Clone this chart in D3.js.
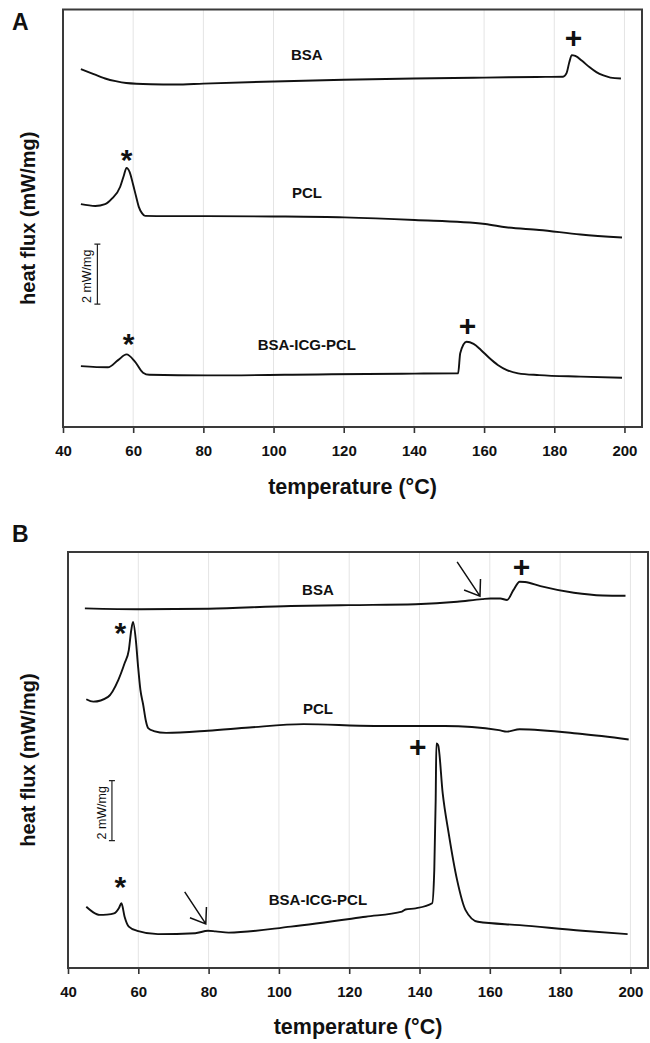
<!DOCTYPE html>
<html><head><meta charset="utf-8">
<script src="https://cdn.jsdelivr.net/npm/d3@7"></script>
<style>
body{margin:0;background:#fff}
svg{display:block}
text{font-family:"Liberation Sans",Arial,Helvetica,sans-serif;fill:#111}
</style>
</head><body>
<svg id="c" width="650" height="1043"></svg>
<script>
// ---------- data ----------
const xTicks = [40, 60, 80, 100, 120, 140, 160, 180, 200];
const seriesNames = ["BSA", "PCL", "BSA-ICG-PCL"];
const xTitle = "temperature (°C)";
const yTitle = "heat flux (mW/mg)";
const scaleBarText = "2 mW/mg";

// Panel A  [temperature °C, heat flux mW/mg (stacked offset)]
const aBSA = [[45.1,11.93],[48,11.80],[52,11.62],[55,11.53],[58,11.47],[65,11.43],[72,11.42],[80,11.45],[100,11.52],[120,11.58],[140,11.62],[160,11.65],[175,11.67],[182.5,11.68],[183.5,11.80],[184.3,12.17],[185,12.40],[186,12.37],[188,12.20],[190,12.00],[192,11.83],[194,11.72],[196,11.65],[199,11.62]];
const aPCL = [[45.1,7.43],[49.2,7.37],[52,7.43],[54,7.62],[56.3,8.01],[57.3,8.37],[58.1,8.64],[59,8.50],[59.9,8.12],[60.8,7.70],[61.6,7.34],[62.5,7.13],[63.4,7.04],[70,7.03],[81.1,7.03],[100,7.02],[120.1,6.99],[140.2,6.90],[160.3,6.77],[166.2,6.66],[175.7,6.57],[187.5,6.42],[199.3,6.32]];
const aMix = [[45.1,2.03],[52.8,1.99],[55.7,2.23],[58.1,2.42],[60.5,2.18],[62.8,1.81],[64.6,1.74],[81.1,1.72],[116.6,1.76],[140.2,1.78],[152.6,1.79],[153.2,2.46],[155,2.84],[157,2.77],[159.1,2.57],[161.5,2.30],[163.9,2.07],[166.5,1.90],[169.7,1.79],[175.7,1.73],[187.5,1.68],[199.3,1.64]];
const aLabelPos = [[109.5,12.23],[109.5,7.63],[109.5,2.57]];
const aMarks = [["+",185.5,12.98],["*",58.1,9.13],["*",58.7,3.01],["+",155.3,3.40]];
const aArrows = [];
const aScaleBar = [49.8, 4.1, 6.1];

// Panel B
const bBSA = [[44.8,11.99],[60.8,11.96],[80,11.98],[103.4,12.07],[120,12.10],[138.9,12.13],[150.7,12.21],[157.8,12.30],[160.2,12.32],[163,12.32],[164.9,12.27],[166.7,12.60],[168.5,12.88],[170,12.87],[174.4,12.73],[183.9,12.51],[192.1,12.42],[198.6,12.41]];
const bPCL = [[45.2,8.96],[47.2,8.88],[51.4,9.04],[54.3,9.60],[56.1,10.16],[57.3,10.60],[58,11.27],[58.5,11.54],[59.3,10.93],[59.9,10.10],[60.6,9.27],[61.4,8.77],[62.1,8.27],[62.8,8.00],[64.4,7.90],[67.9,7.84],[79.8,7.91],[91.6,8.02],[107,8.13],[127.1,8.07],[147.2,8.07],[162.6,7.93],[164.9,7.88],[168.5,7.96],[186.3,7.80],[199.5,7.62]];
const bMix = [[45.2,2.04],[47,1.87],[49,1.77],[51,1.78],[53.1,1.82],[54.5,2.00],[55.2,2.16],[56.1,1.71],[57.3,1.38],[59.7,1.24],[65.6,1.13],[76.2,1.16],[79.8,1.24],[82,1.22],[85.7,1.18],[103.4,1.38],[124.7,1.71],[135,1.88],[136,1.95],[138.9,1.99],[143.6,2.16],[144.2,3.27],[144.6,5.60],[144.8,7.49],[145.3,7.43],[146.6,5.82],[148.3,4.49],[150.7,2.93],[153.1,1.93],[156.6,1.54],[168.5,1.43],[186.3,1.24],[199.2,1.13]];
const bLabelPos = [[111.1,12.43],[111.1,8.47],[111.1,2.10]];
const bMarks = [["+",169.05,13.38],["*",54.9,11.38],["+",139.5,7.38],["*",54.9,2.93]];
const bArrows = [[150.7,13.54,157.2,12.40],[73.2,2.54,79.2,1.47]];
const bScaleBar = [52.5, 4.25, 6.25];

const panels = [
  {letter:"A", series:[aBSA,aPCL,aMix], labels:aLabelPos, marks:aMarks, arrows:aArrows, bar:aScaleBar,
   box:{left:63,right:642,top:9.5,bottom:427}, yMax:13.92, letterY:30, tickPad:12, titleY:494},
  {letter:"B", series:[bBSA,bPCL,bMix], labels:bLabelPos, marks:bMarks, arrows:bArrows, bar:bScaleBar,
   box:{left:68,right:648,top:552,bottom:968}, yMax:13.87, letterY:542, tickPad:12, titleY:1034}
];

// ---------- drawing ----------
const svg = d3.select("#c");
const font = '"Liberation Sans",Arial,Helvetica,sans-serif';

panels.forEach(p => {
  const b = p.box;
  const x = d3.scaleLinear().domain([40, 205]).range([b.left, b.right]);
  const y = d3.scaleLinear().domain([0, p.yMax]).range([b.bottom, b.top]);
  const g = svg.append("g");

  // grid
  g.selectAll("line.grid").data(xTicks.filter(t => t > 40)).enter().append("line")
    .attr("x1", d => x(d)).attr("x2", d => x(d)).attr("y1", b.top).attr("y2", b.bottom)
    .attr("stroke", "#e4e4e4").attr("stroke-width", 1);

  // axis
  const ax = g.append("g").attr("transform", `translate(0,${b.bottom})`)
    .call(d3.axisBottom(x).tickValues(xTicks).tickSize(6).tickPadding(p.tickPad).tickFormat(d3.format("d")));
  ax.select(".domain").remove();
  ax.selectAll(".tick line").attr("stroke", "#333").attr("stroke-width", 1.6);
  ax.selectAll(".tick text").attr("font-family", font).attr("font-size", 15).attr("font-weight", "bold").attr("fill", "#111");

  // box
  g.append("rect").attr("x", b.left).attr("y", b.top).attr("width", b.right - b.left).attr("height", b.bottom - b.top)
    .attr("fill", "none").attr("stroke", "#3a3a3a").attr("stroke-width", 2);

  // curves
  const line = d3.line().x(d => x(d[0])).y(d => y(d[1])).curve(d3.curveMonotoneX);
  g.selectAll("path.s").data(p.series).enter().append("path")
    .attr("d", line).attr("fill", "none").attr("stroke", "#111").attr("stroke-width", 1.9)
    .attr("stroke-linejoin", "round");

  // series labels
  g.selectAll("text.lab").data(p.labels).enter().append("text")
    .attr("x", d => x(d[0])).attr("y", d => y(d[1])).attr("text-anchor", "middle")
    .attr("font-size", 15).attr("font-weight", "bold").text((d, i) => seriesNames[i]);

  // peak markers
  const fs = 30;
  g.selectAll("text.mk").data(p.marks).enter().append("text")
    .attr("x", d => x(d[1])).attr("y", d => y(d[2]) + (d[0] === "*" ? 0.56 * fs : 0.35 * fs))
    .attr("text-anchor", "middle").attr("font-size", fs).attr("font-weight", "bold").text(d => d[0]);

  // arrows
  p.arrows.forEach(a => {
    const x1 = x(a[0]), y1 = y(a[1]), x2 = x(a[2]), y2 = y(a[3]);
    const ang = Math.atan2(y1 - y2, x1 - x2);
    const L = 17, sp = 0.62;
    const path = `M${x1},${y1}L${x2},${y2}M${x2 + L*Math.cos(ang - sp)},${y2 + L*Math.sin(ang - sp)}L${x2},${y2}L${x2 + L*Math.cos(ang + sp)},${y2 + L*Math.sin(ang + sp)}`;
    g.append("path").attr("d", path).attr("fill", "none").attr("stroke", "#111").attr("stroke-width", 1.5);
  });

  // scale bar
  const bx = x(p.bar[0]), by0 = y(p.bar[1]), by1 = y(p.bar[2]);
  g.append("path").attr("d", `M${bx},${by0}V${by1}M${bx-3},${by0}H${bx+3}M${bx-3},${by1}H${bx+3}`)
    .attr("stroke", "#222").attr("stroke-width", 1.2).attr("fill", "none");
  g.append("text").attr("transform", `translate(${bx - 6},${by0 - 1}) rotate(-90)`)
    .attr("font-size", 12.5).text(scaleBarText);

  // axis titles
  g.append("text").attr("x", (b.left + b.right) / 2).attr("y", p.titleY).attr("text-anchor", "middle")
    .attr("font-size", 21.5).attr("font-weight", "bold").text(xTitle);
  g.append("text").attr("transform", `translate(35,${(b.top + b.bottom) / 2}) rotate(-90)`)
    .attr("text-anchor", "middle").attr("font-size", 20).attr("font-weight", "bold").text(yTitle);

  // panel letter
  g.append("text").attr("x", 12).attr("y", p.letterY).attr("font-size", 23).attr("font-weight", "bold").text(p.letter);
});
</script>
</body></html>
